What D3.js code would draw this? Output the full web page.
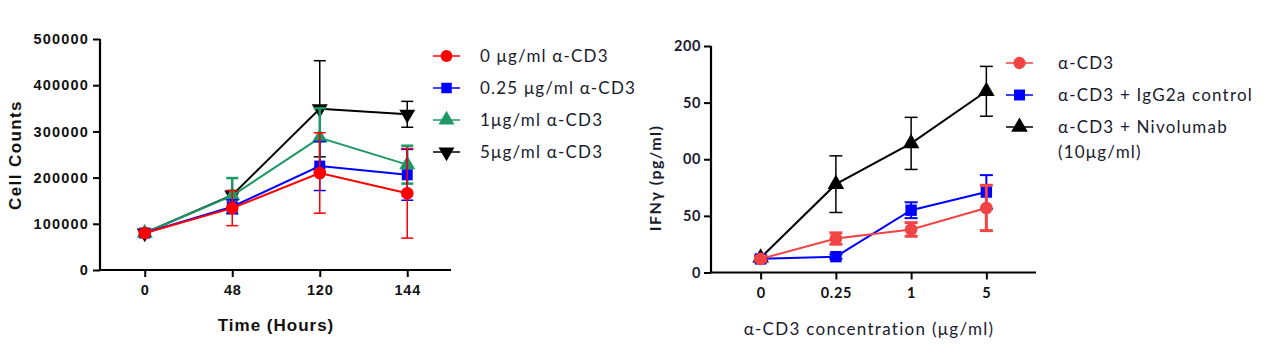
<!DOCTYPE html>
<html>
<head>
<meta charset="utf-8">
<script src="https://cdn.jsdelivr.net/npm/d3@7"></script>
<style>
  body { margin: 0; background: #fff; }
  svg { display: block; }
</style>
</head>
<body>
<svg width="1288" height="361"></svg>
<script>
// ---- left panel: cell counts over time ----
var hours = ["0", "48", "120", "144"];
var countNames = ["0 \u03bcg/ml \u03b1-CD3", "0.25 \u03bcg/ml \u03b1-CD3", "1\u03bcg/ml \u03b1-CD3", "5\u03bcg/ml \u03b1-CD3"];
var count0 = [80000, 134000, 210000, 166000];
var count0err = [5000, 38000, 87000, 97000];
var count025 = [80000, 137000, 225000, 206000];
var count025err = [5000, 15000, 53000, 55000];
var count1 = [80000, 161000, 286000, 228000];
var count1err = [5000, 38000, 64000, 41000];
var count5 = [80000, 162000, 349000, 337000];
var count5err = [5000, 10000, 104000, 28000];
var countTicks = [0, 100000, 200000, 300000, 400000, 500000];

// ---- right panel: IFNg vs anti-CD3 dose ----
var doses = ["0", "0.25", "1", "5"];
var ifnNames = ["\u03b1-CD3", "\u03b1-CD3 + IgG2a control", "\u03b1-CD3 + Nivolumab"];
var ifnCD3 = [12, 30, 38, 57];
var ifnCD3err = [2, 5, 6, 20];
var ifnIgG = [12, 14, 55, 71];
var ifnIgGerr = [3, 2, 7, 15];
var ifnNivo = [13, 78, 114, 160];
var ifnNivoerr = [2, 25, 23, 22];
var ifnTicks = [0, 50, 100, 150, 200];

var svg = d3.select("svg");

var armFont = "'Liberation Sans', Arial, sans-serif";
var calFont = "Lato, 'Open Sans', sans-serif";

function drawSeries(g, x, y, cats, vals, errs, color, sym, symSize, capW, errW) {
    var pts = cats.map(function(c, i) { return {c: c, v: vals[i], e: errs[i]}; });
    var s = g.append("g");
    s.selectAll(".err").data(pts).enter().append("line")
        .attr("x1", function(d) { return x(d.c); })
        .attr("x2", function(d) { return x(d.c); })
        .attr("y1", function(d) { return y(d.v - d.e); })
        .attr("y2", function(d) { return y(d.v + d.e); })
        .attr("stroke", color).attr("stroke-width", errW);
    [1, -1].forEach(function(sg) {
        s.selectAll(".cap" + sg).data(pts).enter().append("line")
            .attr("x1", function(d) { return x(d.c) - capW / 2; })
            .attr("x2", function(d) { return x(d.c) + capW / 2; })
            .attr("y1", function(d) { return y(d.v + sg * d.e); })
            .attr("y2", function(d) { return y(d.v + sg * d.e); })
            .attr("stroke", color).attr("stroke-width", errW);
    });
    s.append("path").datum(pts)
        .attr("fill", "none").attr("stroke", color).attr("stroke-width", 2)
        .attr("d", d3.line().x(function(d) { return x(d.c); }).y(function(d) { return y(d.v); }));
    s.selectAll(".mk").data(pts).enter().append("path")
        .attr("transform", function(d) { return "translate(" + x(d.c) + "," + y(d.v) + ")" + (sym.flip ? " rotate(180)" : ""); })
        .attr("d", d3.symbol().type(sym.type).size(symSize))
        .attr("fill", color);
}

function legendItem(g, lx, ly, tx, color, sym, symSize, label) {
    g.append("line").attr("x1", lx).attr("x2", lx + 27).attr("y1", ly).attr("y2", ly)
        .attr("stroke", color).attr("stroke-width", 1.5);
    g.append("path").attr("transform", "translate(" + (lx + 13.5) + "," + ly + ")" + (sym.flip ? " rotate(180)" : ""))
        .attr("d", d3.symbol().type(sym.type).size(symSize)).attr("fill", color);
    return g.append("text").attr("x", tx).attr("y", ly + 6)
        .attr("font-family", calFont).attr("font-size", 17).attr("fill", "#1a1a2e")
        .attr("letter-spacing", 1.2).text(label);
}

var circ = {type: d3.symbolCircle}, sq = {type: d3.symbolSquare},
    triUp = {type: d3.symbolTriangle}, triDn = {type: d3.symbolTriangle, flip: true};

//------------------------------------------------------------------
// left chart
var xL = d3.scalePoint().domain(hours).range([101, 451]).padding(0.5);
var yL = d3.scaleLinear().domain([0, 500000]).range([270, 39]);
var gL = svg.append("g");

gL.append("g").attr("transform", "translate(0,270)")
    .call(d3.axisBottom(xL).tickSize(7).tickPadding(8))
    .call(function(a) {
        a.select(".domain").attr("stroke-width", 2.2).attr("d", "M100,0H451");
        a.selectAll(".tick line").attr("stroke-width", 2);
        a.selectAll("text").attr("font-family", armFont).attr("font-weight", "bold")
            .attr("font-size", 14.5).attr("fill", "#111").attr("letter-spacing", 0.8);
    });
gL.append("g").attr("transform", "translate(100,0)")
    .call(d3.axisLeft(yL).tickValues(countTicks).tickFormat(d3.format("d")).tickSize(7).tickPadding(4))
    .call(function(a) {
        a.select(".domain").attr("stroke-width", 2.2).attr("d", "M0,39V270");
        a.selectAll(".tick line").attr("stroke-width", 2);
        a.selectAll("text").attr("font-family", armFont).attr("font-weight", "bold")
            .attr("font-size", 14.5).attr("fill", "#111").attr("letter-spacing", 1.2);
    });

drawSeries(gL, xL, yL, hours, count5, count5err, "#000000", triDn, 110, 12, 1.5);
drawSeries(gL, xL, yL, hours, count1, count1err, "#1e9966", triUp, 110, 12, 2.5);
drawSeries(gL, xL, yL, hours, count025, count025err, "#0000ff", sq, 120, 12, 1.5);
drawSeries(gL, xL, yL, hours, count0, count0err, "#ff0000", circ, 125, 12, 1.5);

gL.append("text").attr("x", 276).attr("y", 331).attr("text-anchor", "middle")
    .attr("font-family", armFont).attr("font-weight", "bold").attr("font-size", 17)
    .attr("fill", "#111").attr("letter-spacing", 1).text("Time (Hours)");
gL.append("text").attr("transform", "translate(21,155) rotate(-90)").attr("text-anchor", "middle")
    .attr("font-family", armFont).attr("font-weight", "bold").attr("font-size", 17)
    .attr("fill", "#111").attr("letter-spacing", 1.4).text("Cell Counts");

var legL = svg.append("g");
var lColors = ["#ff0000", "#0000ff", "#1e9966", "#000000"];
var lSyms = [circ, sq, triUp, triDn];
countNames.forEach(function(n, i) {
    legendItem(legL, 433, 56 + i * 32, 480, lColors[i], lSyms[i], 110, n);
});

//------------------------------------------------------------------
// right chart
var xR = d3.scalePoint().domain(doses).range([711, 1036]).padding(0.66);
var yR = d3.scaleLinear().domain([0, 200]).range([272.5, 46]);
var gR = svg.append("g");

gR.append("g").attr("transform", "translate(0,272.5)")
    .call(d3.axisBottom(xR).tickSize(7).tickPadding(8))
    .call(function(a) {
        a.select(".domain").attr("stroke-width", 2.2).attr("d", "M711,0H1036");
        a.selectAll(".tick line").attr("stroke-width", 2);
        a.selectAll("text").attr("font-family", calFont).attr("font-weight", "bold")
            .attr("font-size", 14.5).attr("fill", "#111").attr("letter-spacing", 0.6);
    });
gR.append("g").attr("transform", "translate(711,0)")
    .call(d3.axisLeft(yR).tickValues(ifnTicks).tickSize(7).tickPadding(3))
    .call(function(a) {
        a.select(".domain").attr("stroke-width", 2.2).attr("d", "M0,46V272.5");
        a.selectAll(".tick line").attr("stroke-width", 2);
        a.selectAll("text").attr("font-family", calFont).attr("font-weight", "bold")
            .attr("font-size", 14.5).attr("fill", "#1a1a2e").attr("letter-spacing", 0.6);
    });

drawSeries(gR, xR, yR, doses, ifnNivo, ifnNivoerr, "#000000", triUp, 120, 13, 1.5);
drawSeries(gR, xR, yR, doses, ifnIgG, ifnIgGerr, "#0000ff", sq, 130, 13, 2);
drawSeries(gR, xR, yR, doses, ifnCD3, ifnCD3err, "#f24444", circ, 125, 13, 3);

// white patch that hides part of the 150/100 labels in the original
gR.append("rect").attr("x", 664).attr("y", 92).attr("width", 18).attr("height", 78).attr("fill", "#fff");

gR.append("text").attr("x", 869).attr("y", 335).attr("text-anchor", "middle")
    .attr("font-family", calFont).attr("font-size", 17).attr("fill", "#1a1a2e")
    .attr("letter-spacing", 1.3).text("\u03b1-CD3 concentration (\u03bcg/ml)");
gR.append("text").attr("transform", "translate(661,178) rotate(-90)").attr("text-anchor", "middle")
    .attr("font-family", calFont).attr("font-weight", "bold").attr("font-size", 16)
    .attr("fill", "#1a1a2e").attr("letter-spacing", 1.4).text("IFN\u03b3 (pg/ml)");

var legR = svg.append("g");
var rColors = ["#f24444", "#0000ff", "#000000"];
var rSyms = [circ, sq, triUp];
ifnNames.forEach(function(n, i) {
    legendItem(legR, 1006, 63 + i * 32, 1058, rColors[i], rSyms[i], 120, n);
});
legR.append("text").attr("x", 1058).attr("y", 158)
    .attr("font-family", calFont).attr("font-size", 17).attr("fill", "#1a1a2e")
    .attr("letter-spacing", 1.2).text("(10\u03bcg/ml)");
</script>
</body>
</html>
